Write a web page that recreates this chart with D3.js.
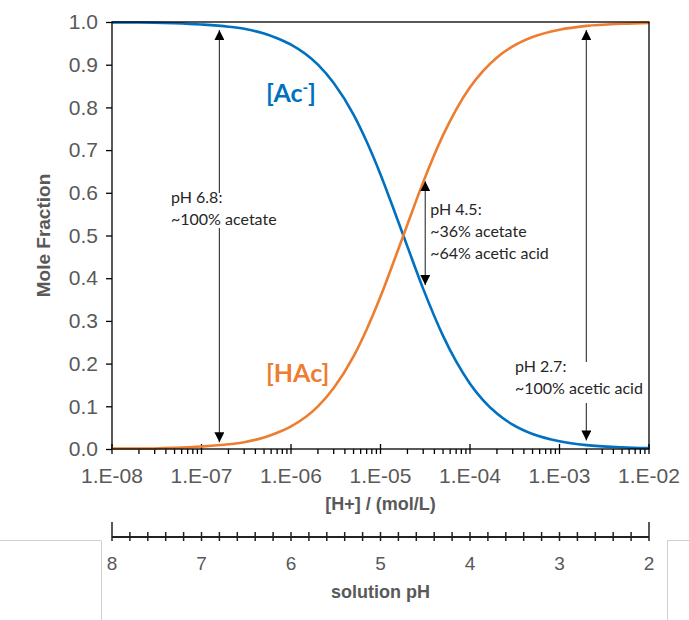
<!DOCTYPE html>
<html>
<head>
<meta charset="utf-8">
<script src="https://cdn.jsdelivr.net/npm/d3@7"></script>
<style>
  body { margin: 0; background: #fff; }
  svg { display: block; }
</style>
</head>
<body>
<div id="chart"></div>
<script>
// [H+] values (mol/L) and mole fractions
var hConc = [1e-8, 2e-8, 5e-8, 1e-7, 2e-7, 3e-7, 5e-7, 7e-7, 1e-6, 2e-6, 3e-6, 5e-6, 7e-6,
  1e-5, 1.5e-5, 2e-5, 3e-5, 5e-5, 7e-5, 1e-4, 2e-4, 3e-4, 5e-4, 1e-3, 2e-3, 5e-3, 1e-2];
var acetate = [0.999, 0.999, 0.997, 0.994, 0.989, 0.984, 0.973, 0.962, 0.947, 0.900, 0.857, 0.783, 0.720,
  0.643, 0.545, 0.474, 0.375, 0.265, 0.205, 0.153, 0.083, 0.057, 0.035, 0.018, 0.009, 0.004, 0.002];
var aceticAcid = [0.001, 0.001, 0.003, 0.006, 0.011, 0.016, 0.027, 0.038, 0.053, 0.100, 0.143, 0.217, 0.280,
  0.357, 0.455, 0.526, 0.625, 0.735, 0.795, 0.847, 0.917, 0.943, 0.965, 0.982, 0.991, 0.996, 0.998];

var xTickLabels = ["1.E-08", "1.E-07", "1.E-06", "1.E-05", "1.E-04", "1.E-03", "1.E-02"];
var yTicks = [0, 0.1, 0.2, 0.3, 0.4, 0.5, 0.6, 0.7, 0.8, 0.9, 1.0];
var pHLabels = [8, 7, 6, 5, 4, 3, 2];

// annotated points: pH, arrow top / bottom fraction, text lines
var notes = [
  { pH: 6.8, top: 0.981, bottom: 0.016, lines: ["pH 6.8:", "~100% acetate"] },
  { pH: 4.5, top: 0.627, bottom: 0.384, lines: ["pH 4.5:", "~36% acetate", "~64% acetic acid"] },
  { pH: 2.7, top: 0.981, bottom: 0.02, lines: ["pH 2.7:", "~100% acetic acid"] }
];

var svgWidth = 689, svgHeight = 620;
var margin = { top: 22, right: 40, bottom: 171, left: 112 };
var width = svgWidth - margin.left - margin.right;
var height = svgHeight - margin.top - margin.bottom;

var blue = "#0070C0", orange = "#ED7D31", gray = "#595959";
var tickFont = "'Liberation Sans', Arial, sans-serif";
var noteFont = "Lato, 'Open Sans', sans-serif";

var svg = d3.select("#chart").append("svg")
  .attr("width", svgWidth)
  .attr("height", svgHeight);

// light frame lines of the embedded pH axis box
var frame = svg.append("g").attr("stroke", "#d0d0d0").attr("fill", "none");
frame.append("path").attr("d", "M0,540.5H101.5V620");
frame.append("path").attr("d", "M689,540.5H667.5V620");

svg.append("defs").append("marker")
  .attr("id", "head")
  .attr("viewBox", "0 0 10 10")
  .attr("refX", 10).attr("refY", 5)
  .attr("markerWidth", 10).attr("markerHeight", 10)
  .attr("markerUnits", "userSpaceOnUse")
  .attr("orient", "auto-start-reverse")
  .append("path").attr("d", "M0,0L10,5L0,10Z").attr("fill", "#000");

var chart = svg.append("g")
  .attr("transform", `translate(${margin.left}, ${margin.top})`);

var x = d3.scaleLog().domain([1e-8, 1e-2]).range([0, width]);
var y = d3.scaleLinear().domain([0, 1]).range([height, 0]);
var xpH = d3.scaleLinear().domain([8, 2]).range([0, width]);

// y axis
var yAxis = chart.append("g")
  .call(d3.axisLeft(y).tickValues(yTicks).tickFormat(d3.format(".1f")).tickSize(6).tickPadding(8));
yAxis.select(".domain").remove();
yAxis.selectAll(".tick line").attr("stroke", "#000").attr("stroke-width", 1.3);
yAxis.selectAll("text").attr("fill", gray)
  .style("font-family", tickFont).style("font-size", "21px");

// x axis: log ticks, majors cross the axis, minors below
var majors = d3.range(-8, -1).map(p => Math.pow(10, p));
var minors = [];
majors.slice(0, -1).forEach(m => { for (var k = 2; k <= 9; k++) minors.push(m * k); });

var xAxis = chart.append("g").attr("transform", `translate(0, ${height})`);
xAxis.selectAll(".minor").data(minors).enter().append("line")
  .attr("x1", d => x(d)).attr("x2", d => x(d))
  .attr("y1", 0).attr("y2", 5)
  .attr("stroke", "#000").attr("stroke-width", 1.3);
xAxis.selectAll(".major").data(majors).enter().append("line")
  .attr("x1", d => x(d)).attr("x2", d => x(d))
  .attr("y1", -5).attr("y2", 5)
  .attr("stroke", "#000").attr("stroke-width", 1.3);
xAxis.selectAll(".lbl").data(majors).enter().append("text")
  .attr("x", d => x(d)).attr("y", 34)
  .attr("text-anchor", "middle")
  .attr("fill", gray)
  .style("font-family", tickFont).style("font-size", "21px")
  .text((d, i) => xTickLabels[i]);

// axis titles
chart.append("text")
  .attr("x", width / 2).attr("y", height + 61)
  .attr("text-anchor", "middle").attr("fill", gray)
  .style("font-family", tickFont).style("font-size", "18px").style("font-weight", "bold")
  .text("[H+] / (mol/L)");

chart.append("text")
  .attr("transform", `translate(${-62}, ${height / 2}) rotate(-90)`)
  .attr("text-anchor", "middle").attr("fill", gray)
  .style("font-family", tickFont).style("font-size", "19px").style("font-weight", "bold")
  .text("Mole Fraction");

// curves
var line = d3.line().curve(d3.curveMonotoneX).x(d => x(d[0])).y(d => y(d[1]));
chart.append("path")
  .datum(d3.zip(hConc, acetate))
  .attr("d", line).attr("fill", "none").attr("stroke", blue).attr("stroke-width", 2.6);
chart.append("path")
  .datum(d3.zip(hConc, aceticAcid))
  .attr("d", line).attr("fill", "none").attr("stroke", orange).attr("stroke-width", 2.6);

// series labels
var ac = chart.append("text")
  .attr("x", 154).attr("y", 80)
  .attr("fill", blue)
  .style("font-family", noteFont).style("font-size", "25px").style("font-weight", "bold");
ac.append("tspan").text("[Ac");
ac.append("tspan").attr("dy", -9).style("font-size", "15px").text("-");
ac.append("tspan").attr("dy", 9).text("]");

chart.append("text")
  .attr("x", 154).attr("y", 360)
  .attr("fill", orange)
  .style("font-family", noteFont).style("font-size", "25px").style("font-weight", "bold")
  .text("[HAc]");

// annotation arrows
notes.forEach(function(n) {
  var hx = x(Math.pow(10, -n.pH));
  chart.append("line")
    .attr("x1", hx).attr("x2", hx)
    .attr("y1", y(n.top)).attr("y2", y(n.bottom))
    .attr("stroke", "#404040").attr("stroke-width", 1.2)
    .attr("marker-start", "url(#head)").attr("marker-end", "url(#head)");
});

function noteText(tx, ty, lines, gap) {
  if (gap) {
    chart.append("rect")
      .attr("x", gap[0] - 4).attr("y", gap[1]).attr("width", 8).attr("height", gap[2])
      .attr("fill", "#fff");
  }
  var t = chart.append("text")
    .attr("fill", "#262626")
    .style("font-family", noteFont).style("font-size", "16px");
  lines.forEach(function(s, i) {
    t.append("tspan").attr("x", tx).attr("y", ty + i * 22).text(s);
  });
}

var n0x = x(Math.pow(10, -notes[0].pH));
noteText(59, 181, notes[0].lines, [n0x, 171, 35]);
var n1x = x(Math.pow(10, -notes[1].pH));
noteText(n1x + 5, 193, notes[1].lines, null);
var n2x = x(Math.pow(10, -notes[2].pH));
noteText(403, 350, notes[2].lines, [n2x, 340, 41]);

// plot box on top
chart.append("rect")
  .attr("x", 0).attr("y", 0)
  .attr("width", width).attr("height", height)
  .attr("fill", "none").attr("stroke", "#000").attr("stroke-width", 1.3);

// pH axis underneath
var pHy = 537 - margin.top;
var pHminor = d3.range(0, 31).map(i => 8 - i * 0.2);
var pHg = chart.append("g").attr("transform", `translate(0, ${pHy})`);
pHg.append("line").attr("x1", 0).attr("x2", width).attr("stroke", "#222").attr("stroke-width", 2);
pHg.selectAll(".ptick").data(pHminor).enter().append("line")
  .attr("x1", d => xpH(d)).attr("x2", d => xpH(d))
  .attr("y1", (d, i) => (i === 0 || i === 30) ? -15 : -5)
  .attr("y2", 4)
  .attr("stroke", "#222").attr("stroke-width", 1.5);
pHg.selectAll(".plbl").data(pHLabels).enter().append("text")
  .attr("x", d => xpH(d)).attr("y", 33)
  .attr("text-anchor", "middle").attr("fill", gray)
  .style("font-family", tickFont).style("font-size", "19px")
  .text(d => d);
pHg.append("text")
  .attr("x", width / 2).attr("y", 61)
  .attr("text-anchor", "middle").attr("fill", gray)
  .style("font-family", tickFont).style("font-size", "18px").style("font-weight", "bold")
  .text("solution pH");
</script>
</body>
</html>
